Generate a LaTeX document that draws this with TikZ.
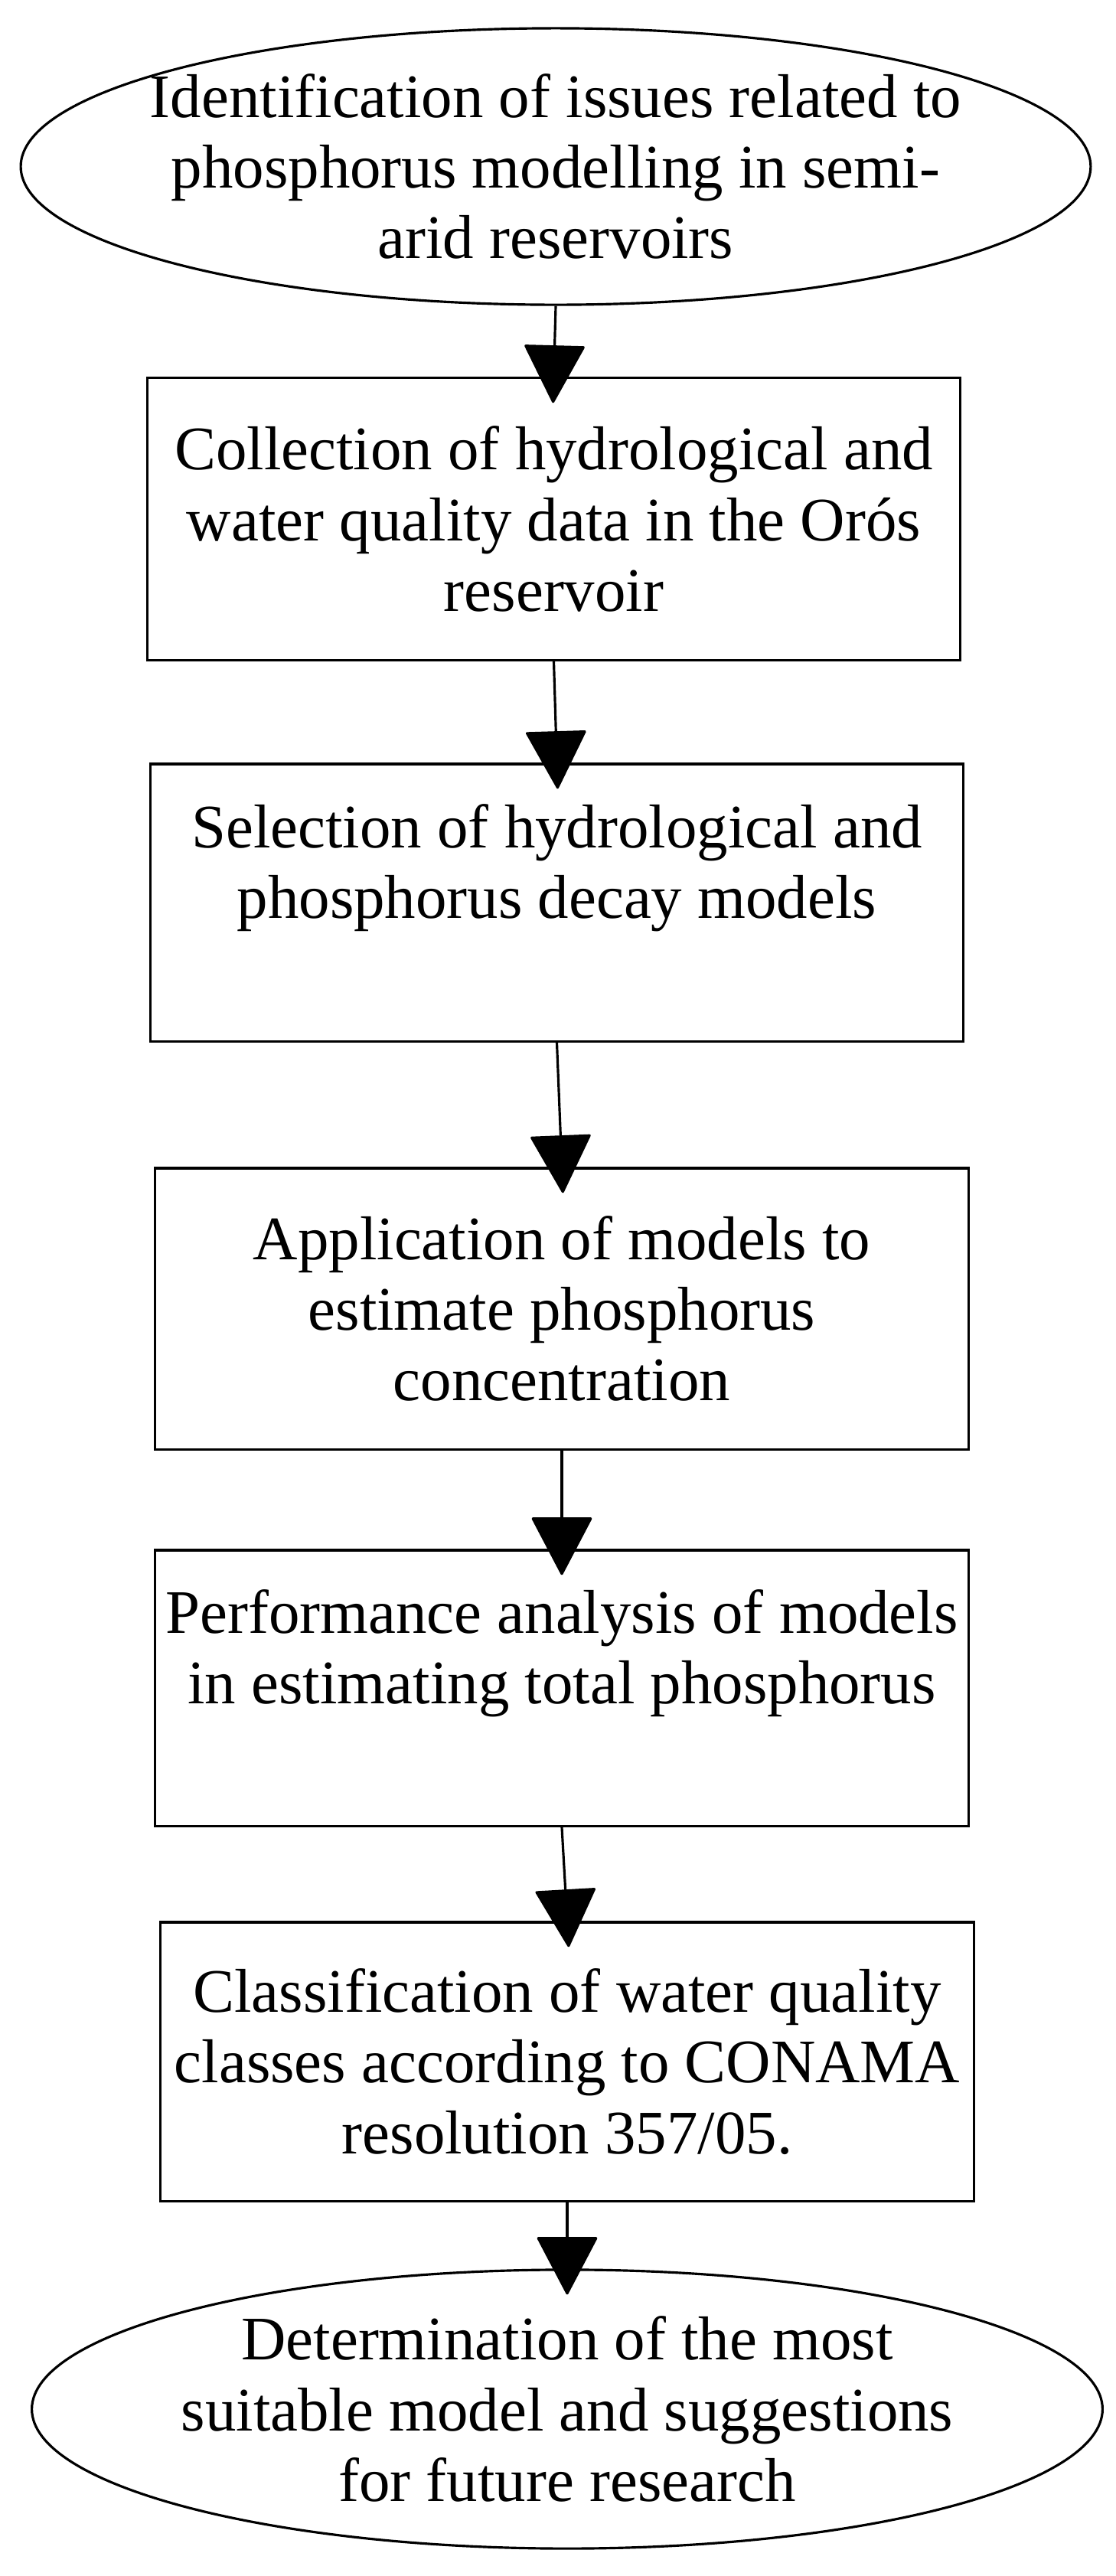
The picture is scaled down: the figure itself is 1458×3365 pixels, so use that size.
\documentclass[tikz,border=0pt]{standalone}
\usepackage{fontspec}
\setmainfont{Liberation Serif}
\usetikzlibrary{shapes.geometric,arrows.meta}
\begin{document}
\begin{tikzpicture}[x=0.01cm,y=-0.01cm,
  txt/.style={align=center,font=\fontsize{23}{26.2}\selectfont,inner sep=0pt},
  bx/.style={draw,line width=0.9pt},
  arr/.style={line width=0.9pt,shorten >=-0.34cm,-{Triangle[width=0.8cm,length=0.77cm,round]}}]
\useasboundingbox (0,0) rectangle (1458,3365);
\node[draw,line width=0.9pt,ellipse,minimum width=13.97cm,minimum height=3.61cm] (e1) at (726,217.5) {};
\node[txt] at (e1) {Identification of issues related to\\phosphorus modelling in semi-\\arid reservoirs};
\node[bx,minimum width=10.61cm,minimum height=3.68cm] (b1) at (723.5,678) {};
\node[txt] at (b1) {Collection of hydrological and\\water quality data in the Orós\\reservoir};
\node[bx,minimum width=10.61cm,minimum height=3.62cm] (b2) at (727.5,1179) {};
\node[txt] at ([yshift=0.45cm]b2.center) {Selection of hydrological and\\phosphorus decay models};
\node[bx,minimum width=10.62cm,minimum height=3.67cm] (b3) at (734,1709.5) {};
\node[txt] at (b3) {Application of models to\\estimate phosphorus\\concentration};
\node[bx,minimum width=10.62cm,minimum height=3.60cm] (b4) at (734,2205) {};
\node[txt] at ([yshift=0.45cm]b4.center) {Performance analysis of models\\in estimating total phosphorus};
\node[bx,minimum width=10.62cm,minimum height=3.64cm] (b5) at (741,2693) {};
\node[txt] at (b5) {Classification of water quality\\classes according to CONAMA\\resolution 357/05.};
\node[draw,line width=0.9pt,ellipse,minimum width=13.98cm,minimum height=3.64cm] (e2) at (741,3147) {};
\node[txt] at (e2) {Determination of the most\\suitable model and suggestions\\for future research};
\draw[arr] (e1.south) -- (b1.north);
\draw[arr] (b1.south) -- (b2.north);
\draw[arr] (b2.south) -- (b3.north);
\draw[arr] (b3.south) -- (b4.north);
\draw[arr] (b4.south) -- (b5.north);
\draw[arr] (b5.south) -- (e2.north);
\end{tikzpicture}
\end{document}
